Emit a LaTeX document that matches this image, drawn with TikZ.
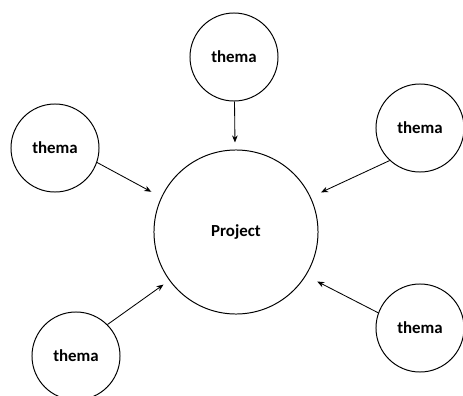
\documentclass[tikz,border=0pt]{standalone}
\usepackage{fontspec}
\setmainfont{Carlito}
\usetikzlibrary{arrows.meta}

\begin{document}
\begin{tikzpicture}[x=0.025cm,y=-0.025cm,
  thema/.style={draw,circle,line width=0.7pt,minimum size=2.2cm,inner sep=0pt,
    font=\fontsize{12}{14}\selectfont\bfseries},
  arr/.style={-{Stealth[length=5pt,width=4pt]},line width=0.6pt}]
\useasboundingbox (0,0) rectangle (463,396);

% Project in the middle
\node[thema,minimum size=4.1cm] (p) at (236,232) {Project};

% the themes round it
\node[thema] (t)  at (234,57)  {thema};
\node[thema] (l)  at (55,148)  {thema};
\node[thema] (r)  at (420,128) {thema};
\node[thema] (bl) at (76,356)  {thema};
\node[thema] (br) at (420,328) {thema};

% arrows
\draw[arr,shorten >=5pt] (t) -- (p);
\draw[arr,shorten >=8pt] (l.-19) -- (p.155);
\draw[arr,shorten >=8pt] (r.227) -- (p.25);
\draw[arr,shorten >=5pt] (bl.45) -- (p.216);
\draw[arr,shorten >=9pt] (br.160) -- (p.-32);
\end{tikzpicture}
\end{document}
